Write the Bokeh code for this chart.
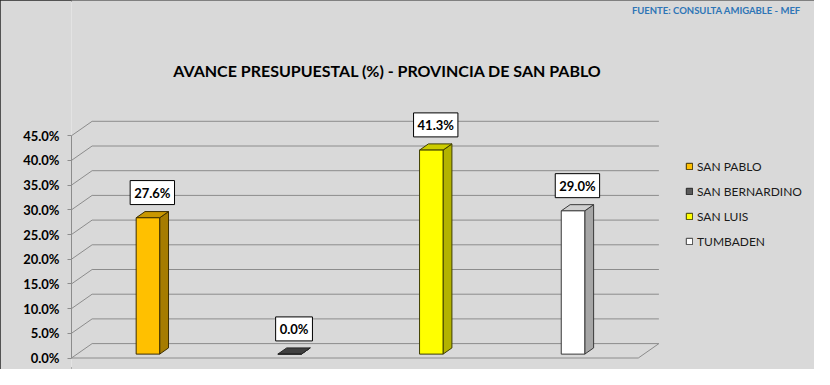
from bokeh.plotting import figure
from bokeh.models import (Range1d, FixedTicker, ColumnDataSource, Label,
                          Legend, LegendItem)
from bokeh.embed import file_html
from bokeh.resources import INLINE

# ---------------- data ----------------
categories = ["SAN PABLO", "SAN BERNARDINO", "SAN LUIS", "TUMBADEN"]
values = [27.6, 0.0, 41.3, 29.0]
y_ticks = [0, 5, 10, 15, 20, 25, 30, 35, 40, 45]
tick_labels = ["0.0%", "5.0%", "10.0%", "15.0%", "20.0%", "25.0%",
               "30.0%", "35.0%", "40.0%", "45.0%"]
value_labels = ["27.6%", "0.0%", "41.3%", "29.0%"]
title_text = "AVANCE PRESUPUESTAL  (%) - PROVINCIA DE SAN PABLO"
source_text = "FUENTE:  CONSULTA  AMIGABLE - MEF"

front_colors = ["#FFC000", "#595959", "#FFFF00", "#FFFFFF"]
side_colors = ["#A67C00", "#3A3A3A", "#B3B300", "#A6A6A6"]
top_colors = ["#C99700", "#404040", "#CCCC00", "#D0D0D0"]
edge_colors = ["#3D2E00", "#262626", "#3D3D00", "#3A3A3A"]

# ---------------- layout constants ----------------
W, H = 814, 369
LEFT = 71
PX_PER_CAT = 141.7
PX_PER_PCT = 4.94
BOTTOM_PX = 11.5
BG = "#D9D9D9"
GRID = "#8C8C8C"
FONT = "Lato"

DX = 20.6 / PX_PER_CAT         # depth of the 3D box (x, data units)
DY = 14.4 / PX_PER_PCT         # depth of the 3D box (y, data units)
F1, F2 = 0.27, 0.70            # bar depth position
BAR_W = 23.5 / PX_PER_CAT
n = len(categories)

x_end = (W - LEFT) / PX_PER_CAT
y_start = -BOTTOM_PX / PX_PER_PCT
y_end = (H - BOTTOM_PX) / PX_PER_PCT

p = figure(width=W, height=H, output_backend="svg", toolbar_location=None,
           x_range=Range1d(0, x_end), y_range=Range1d(y_start, y_end),
           min_border_left=LEFT, min_border_right=0, min_border_top=0,
           min_border_bottom=0, background_fill_color=BG, border_fill_color=BG,
           outline_line_color=None)
p.styles = {"outline": "2px solid #262626", "outline-offset": "-2px"}
p.xaxis.visible = False
p.xgrid.visible = False
p.ygrid.visible = False

# y axis (front)
ax = p.yaxis[0]
ax.ticker = FixedTicker(ticks=y_ticks)
ax.major_label_overrides = {t: l for t, l in zip(y_ticks, tick_labels)}
ax.bounds = (y_ticks[0], y_ticks[-1])
ax.axis_line_color = GRID
ax.major_tick_line_color = GRID
ax.major_tick_out = 4
ax.major_tick_in = 0
ax.minor_tick_line_color = None
ax.major_label_text_font = FONT
ax.major_label_text_font_style = "bold"
ax.major_label_text_font_size = "13px"
ax.major_label_text_color = "#000000"
ax.major_label_standoff = 8

# back wall grid lines with diagonal connectors
gx = [[0, DX, n + DX] for _ in y_ticks]
gy = [[t, t + DY, t + DY] for t in y_ticks]
p.multi_line(gx, gy, line_color=GRID, line_width=1)
# floor front edge
p.line([0, n, n + DX], [0, 0, DY], line_color=GRID, line_width=1)

# 3D bars
fl, fr, fb, ft = [], [], [], []
side_xs, side_ys, top_xs, top_ys = [], [], [], []
lab_x, lab_y = [], []
dd = F2 - F1
for i, v in enumerate(values):
    x0 = i + 0.5 - BAR_W / 2 + F1 * DX
    x1 = x0 + BAR_W
    yb = F1 * DY
    yt = v + F1 * DY
    fl.append(x0); fr.append(x1); fb.append(yb); ft.append(yt)
    side_xs.append([x1, x1 + dd * DX, x1 + dd * DX, x1])
    side_ys.append([yb, yb + dd * DY, yt + dd * DY, yt])
    top_xs.append([x0, x1, x1 + dd * DX, x0 + dd * DX])
    top_ys.append([yt, yt, yt + dd * DY, yt + dd * DY])
    lab_x.append(i + 0.5 + (F1 + F2) / 2 * DX)
    lab_y.append(v + F2 * DY)

p.patches(side_xs, side_ys, fill_color=side_colors, line_color=edge_colors, line_width=1)
p.patches(top_xs, top_ys, fill_color=top_colors, line_color=edge_colors, line_width=1)
front_src = ColumnDataSource(dict(left=fl, right=fr, bottom=fb, top=ft,
                                  fill=front_colors, edge=edge_colors, cat=categories))
fr_r = p.quad(left="left", right="right", bottom="bottom", top="top", source=front_src,
              fill_color="fill", line_color="edge", line_width=1)

# value labels
for lx, ly, lt in zip(lab_x, lab_y, value_labels):
    p.add_layout(Label(x=lx, y=ly, text=lt, y_offset=7,
                       text_align="center", text_baseline="bottom",
                       text_font=FONT, text_font_style="bold", text_font_size="13px",
                       text_color="#000000", background_fill_color="#FFFFFF",
                       border_line_color="#000000", border_line_width=1, padding=4))

# legend
legend = Legend(items=[LegendItem(label=c, renderers=[fr_r], index=i)
                       for i, c in enumerate(categories)],
                location=(685 - LEFT, 120), orientation="vertical",
                label_text_font=FONT, label_text_font_size="12px",
                label_text_color="#1A1A1A", glyph_width=8, glyph_height=8,
                label_height=16, spacing=9, label_standoff=4, padding=0, margin=0,
                background_fill_alpha=0, border_line_color=None)
p.add_layout(legend)

# title and source
p.add_layout(Label(x=389 - LEFT, y=H - 70, x_units="screen", y_units="screen", text=title_text,
                   text_align="center", text_baseline="middle", text_font=FONT,
                   text_font_style="bold", text_font_size="16px", text_color="#000000"))
p.add_layout(Label(x=805 - LEFT, y=H - 10, x_units="screen", y_units="screen",
                   text=source_text, text_align="right", text_baseline="middle",
                   text_font=FONT, text_font_style="bold", text_font_size="9.5px",
                   text_color="#2E75B6"))

open("out.html", "w").write(file_html(p, INLINE))
